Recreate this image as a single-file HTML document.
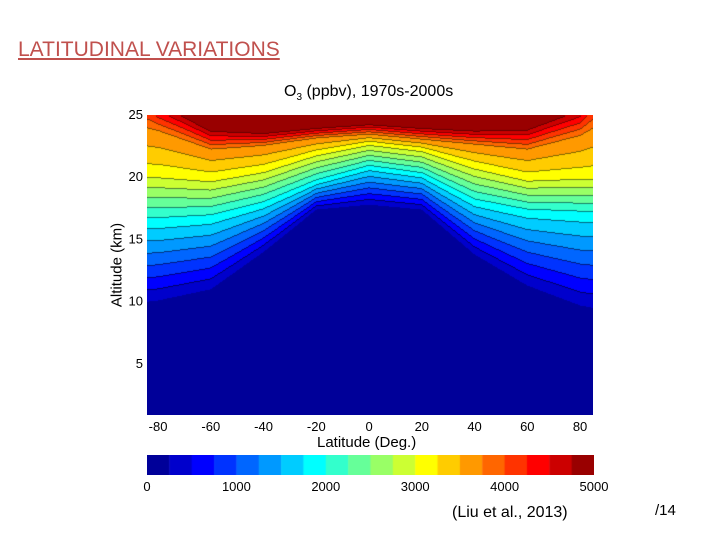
<!DOCTYPE html>
<html><head><meta charset="utf-8"><style>
body{margin:0;width:720px;height:540px;background:#fff;position:relative;overflow:hidden;font-family:"Liberation Sans",sans-serif}
.t{position:absolute;white-space:nowrap;color:#000}
#plot{position:absolute;left:147px;top:115px}
#cbar{position:absolute;left:147px;top:455px}
</style></head><body>
<div class="t" style="left:18px;top:38px;font-size:21px;color:#c0504d;text-decoration:underline">LATITUDINAL VARIATIONS </div>
<div class="t" style="left:284px;top:83px;font-size:16px">O<sub style="font-size:10px">3</sub> (ppbv), 1970s-2000s</div>
<canvas id="plot" width="446" height="300"></canvas>
<canvas id="cbar" width="447" height="20"></canvas>
<svg id="ax" width="720" height="540" style="position:absolute;left:0;top:0"></svg>
<div class="t" style="left:117px;top:265px;font-size:15px;transform:translate(-50%,-50%) rotate(-90deg)">Altitude (km)</div>
<div class="t" style="left:317px;top:434px;font-size:15px">Latitude (Deg.)</div>
<div class="t" style="left:452px;top:504px;font-size:16px">(Liu et al., 2013)</div>
<div class="t" style="left:655px;top:502px;font-size:15px">/14</div>
<script>
const lats=[-84,-80,-60,-40,-20,0,20,40,60,80,85];
const levelVals=[0,250,1875,3125,3750,4800];
const alt0=[0,0,0,0,0,0,0,0,0,0,0];
const alt250=[10.0,10.1,11.0,14.0,17.4,17.8,17.4,13.8,11.3,9.7,9.5];
const alt1875=[16.4,16.4,16.7,17.8,19.6,20.8,20.2,18.0,17.2,17.0,17.0];
const alt3125=[20.4,20.4,20.0,20.7,22.0,22.8,22.3,21.0,20.0,20.2,20.2];
const alt3750=[24.0,23.8,22.3,22.6,23.2,23.5,23.1,22.7,22.3,23.4,24.0];
const alt4800=[27,26,23.8,23.6,24.0,24.3,24.0,23.8,23.9,25.5,27];
const xTicks=[-80,-60,-40,-20,0,20,40,60,80];
const yTicks=[5,10,15,20,25];
const cTicks=[0,1000,2000,3000,4000,5000];
const altSets=[alt0,alt250,alt1875,alt3125,alt3750,alt4800];
const LAT0=-84.2,LAT1=84.9,ALT0=0.9,ALT1=25,W=446,H=300;
const xS=l=>(l-LAT0)/(LAT1-LAT0)*W;
const yS=a=>(ALT1-a)/(ALT1-ALT0)*H;
function jet(x){const c=v=>Math.round(255*Math.max(0,Math.min(1,v)));return [c(1.5-Math.abs(4*x-3)),c(1.5-Math.abs(4*x-2)),c(1.5-Math.abs(4*x-1))];}
function bandColor(i){const c=jet((i+0.5)/20);return 'rgb('+c+')';}
function interpLat(arr,lat){for(let i=0;i<lats.length-1;i++){if(lat<=lats[i+1]){const t=(lat-lats[i])/(lats[i+1]-lats[i]);return arr[i]+t*(arr[i+1]-arr[i]);}}return arr[arr.length-1];}
function value(lat,alt){const h=altSets.map(a=>interpLat(a,lat));
 for(let k=0;k<h.length-1;k++){if(alt<=h[k+1]){const t=(alt-h[k])/(h[k+1]-h[k]);return levelVals[k]+t*(levelVals[k+1]-levelVals[k]);}}
 return 4800;}
const ctx=document.getElementById('plot').getContext('2d');
for(let px=0;px<W;px++){const lat=LAT0+(px+0.5)/W*(LAT1-LAT0);let prev=-1;
 for(let py=0;py<H;py++){const alt=ALT1-(py+0.5)/H*(ALT1-ALT0);let b=Math.min(19,Math.max(0,Math.floor(value(lat,alt)/250)));
  ctx.fillStyle=bandColor(b);ctx.fillRect(px,py,1,1);
  if(prev>=0&&b!==prev&&b>=1){ctx.fillStyle='rgba(0,0,0,0.5)';ctx.fillRect(px,py,1,1);}prev=b;}}
const cb=document.getElementById('cbar').getContext('2d');
for(let i=0;i<20;i++){cb.fillStyle=bandColor(i);cb.fillRect(i*447/20,0,447/20+0.5,20);}
const svg=document.getElementById('ax');const NS='http://www.w3.org/2000/svg';
function txt(x,y,s,name,anchor){const t=document.createElementNS(NS,'text');t.setAttribute('x',x);t.setAttribute('y',y);t.setAttribute('font-size','13');t.setAttribute('font-family','Liberation Sans, sans-serif');t.setAttribute('text-anchor',anchor);t.textContent=s;
 
 
 svg.appendChild(t);}
xTicks.forEach(v=>txt(147+xS(v),431,v,'x-tick-label','middle'));
yTicks.forEach(v=>txt(143,115+yS(v)+4,v,'y-tick-label','end'));
cTicks.forEach(v=>txt(147+v/5000*447,491,v,'colorbar-tick-label','middle'));
</script>
</body></html>
